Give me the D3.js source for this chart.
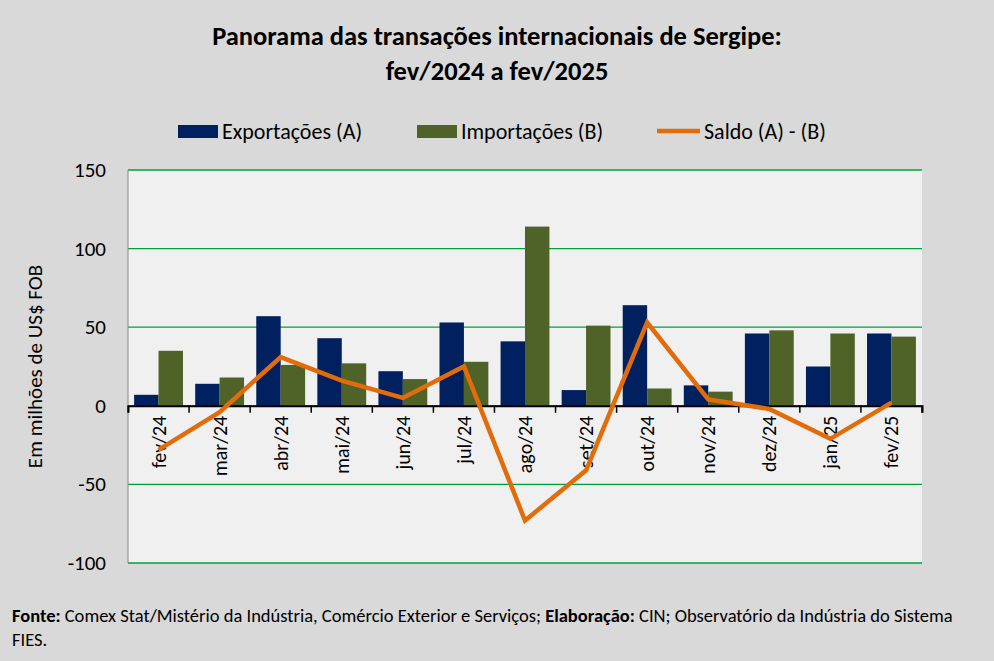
<!DOCTYPE html>
<html><head><meta charset="utf-8">
<script src="https://cdn.jsdelivr.net/npm/d3@7"></script>
<style>body{margin:0;background:#d9d9d9;font-family:Calibri,"Liberation Sans",Arial,sans-serif}</style>
</head><body><svg id="c" width="994" height="661"></svg>
<script>
// meses
var months = ["fev/24","mar/24","abr/24","mai/24","jun/24","jul/24","ago/24","set/24","out/24","nov/24","dez/24","jan/25","fev/25"];
var exportacoes = [7,14,57,43,22,53,41,10,64,13,46,25,46];
var importacoes = [35,18,26,27,17,28,114,51,11,9,48,46,44];
var saldo = [-28,-4,31,16,5,25,-73,-41,53,4,-2,-21,2];
var yTicks = [-100,-50,0,50,100,150];

var svg = d3.select("#c");
svg.append("rect").attr("width",994).attr("height",661).attr("fill","#d9d9d9");
var L=128,R=922,T=170,B=563;
var x = d3.scaleBand().domain(months).range([L,R]);
var y = d3.scaleLinear().domain([-100,150]).range([B,T]);

svg.append("rect").attr("x",L).attr("y",T).attr("width",R-L).attr("height",B-T).attr("fill","#f0f0f0");
svg.selectAll(".g").data(yTicks).enter().append("line")
  .attr("x1",L).attr("x2",R).attr("y1",d=>y(d)).attr("y2",d=>y(d))
  .attr("stroke","#00a03c").attr("stroke-width",1.3);
svg.append("line").attr("x1",L).attr("x2",L).attr("y1",T).attr("y2",B).attr("stroke","#888");
svg.selectAll(".yt").data(yTicks).enter().append("text")
  .attr("x",L-22).attr("y",d=>y(d)+7).attr("text-anchor","end")
  .attr("font-size",21).text(d=>d);
svg.append("text").attr("transform","translate(42,"+((T+B)/2)+") rotate(-90)")
  .attr("text-anchor","middle").attr("font-size",21).text("Em milhões de US$ FOB");

var bw = x.bandwidth()*0.4;
svg.selectAll(".e").data(exportacoes).enter().append("rect")
  .attr("x",(d,i)=>x(months[i])+x.bandwidth()*0.1).attr("width",bw)
  .attr("y",d=>y(Math.max(d,0))).attr("height",d=>Math.abs(y(d)-y(0))).attr("fill","#002060");
svg.selectAll(".m").data(importacoes).enter().append("rect")
  .attr("x",(d,i)=>x(months[i])+x.bandwidth()*0.5).attr("width",bw)
  .attr("y",d=>y(Math.max(d,0))).attr("height",d=>Math.abs(y(d)-y(0))).attr("fill","#4f6228");

var ax = svg.append("g").attr("transform","translate(0,"+y(0)+")")
  .call(d3.axisBottom(x).tickSize(7).tickFormat(""));
ax.selectAll("line").attr("stroke","#000").attr("stroke-width",1.5)
  .attr("transform","translate("+(x.bandwidth()/2)+",0)");
ax.select(".domain").attr("stroke","#000").attr("stroke-width",2);
svg.append("line").attr("x1",L).attr("x2",L).attr("y1",y(0)).attr("y2",y(0)+7).attr("stroke","#000");

svg.selectAll(".xl").data(months).enter().append("text")
  .attr("transform",d=>"translate("+(x(d)+x.bandwidth()/2+7)+","+(y(0)+10)+") rotate(-90)")
  .attr("text-anchor","end").attr("font-size",20).text(d=>d);

var line = d3.line().x((d,i)=>x(months[i])+x.bandwidth()/2).y(d=>y(d));
svg.append("path").datum(saldo).attr("d",line).attr("fill","none")
  .attr("stroke","#e36c0a").attr("stroke-width",4.5).attr("stroke-linejoin","miter");

svg.append("text").attr("x",497).attr("y",45).attr("text-anchor","middle").attr("font-size",26.5)
  .attr("font-weight","bold").text("Panorama  das transações internacionais de Sergipe:");
svg.append("text").attr("x",497).attr("y",80).attr("text-anchor","middle").attr("font-size",26.5)
  .attr("font-weight","bold").text("fev/2024 a fev/2025");

var lg = svg.append("g").attr("font-size",22);
lg.append("rect").attr("x",178).attr("y",125).attr("width",40).attr("height",13).attr("fill","#002060");
lg.append("text").attr("x",222).attr("y",139).text("Exportações (A)");
lg.append("rect").attr("x",417).attr("y",125).attr("width",40).attr("height",13).attr("fill","#4f6228");
lg.append("text").attr("x",461).attr("y",139).text("Importações (B)");
lg.append("line").attr("x1",657).attr("x2",700).attr("y1",131).attr("y2",131).attr("stroke","#e36c0a").attr("stroke-width",4.5);
lg.append("text").attr("x",704).attr("y",139).text("Saldo (A) - (B)");

var f = svg.append("text").attr("x",12).attr("y",622).attr("font-size",18.5);
f.append("tspan").attr("font-weight","bold").text("Fonte:");
f.append("tspan").text(" Comex Stat/Mistério da Indústria, Comércio Exterior e Serviços; ");
f.append("tspan").attr("font-weight","bold").text("Elaboração:");
f.append("tspan").text(" CIN; Observatório da Indústria do Sistema");
svg.append("text").attr("x",12).attr("y",646).attr("font-size",18.5).text("FIES.");
</script></body></html>
